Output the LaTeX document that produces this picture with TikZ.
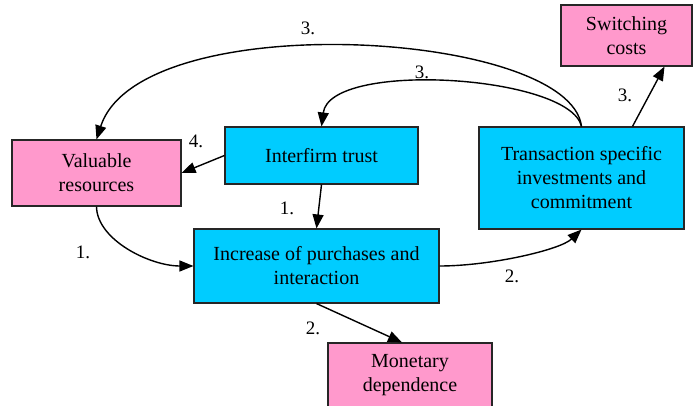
\documentclass[tikz,border=0pt]{standalone}
\usepackage{fontspec}
\setmainfont{Liberation Serif}
\usetikzlibrary{arrows.meta,calc}
\definecolor{boxcyan}{HTML}{00CCFF}
\definecolor{boxpink}{HTML}{FF99CC}
\begin{document}
\begin{tikzpicture}[x=1pt,y=-1pt,
  box/.style={draw=black!85,line width=1.1pt,rectangle,align=center,inner sep=0pt,
    font=\rmfamily\fontsize{20}{24}\selectfont},
  cyanbox/.style={box,fill=boxcyan},
  pinkbox/.style={box,fill=boxpink},
  conn/.style={line width=1.4pt,-{Triangle[length=14pt,width=11pt]}},
  lab/.style={font=\rmfamily\fontsize{19}{22}\selectfont,inner sep=0pt}]
\useasboundingbox (0,0) rectangle (694,406);
\node[pinkbox,minimum width=169pt,minimum height=66pt] (vr) at (96.5,173) {Valuable\\resources};
\node[cyanbox,minimum width=193pt,minimum height=57pt] (it) at (321.5,155.5) {Interfirm trust};
\node[cyanbox,minimum width=205pt,minimum height=102pt] (tr) at (581.5,178) {Transaction specific\\investments and\\commitment};
\node[pinkbox,minimum width=131pt,minimum height=61pt] (sw) at (626.5,35.5) {Switching\\costs};
\node[cyanbox,minimum width=245pt,minimum height=74pt] (inc) at (316.5,266) {Increase of purchases and\\interaction};
\node[pinkbox,minimum width=164pt,minimum height=65pt] (md) at (410,375.5) {Monetary\\dependence};
% connectors
\draw[conn] (tr.north) .. controls (570,30) and (140,5) .. (vr.north);
\draw[conn] (tr.north) .. controls (570,75) and (330,60) .. (it.north);
\draw[conn] ($(tr.north)+(51,0)$) -- ($(sw.south)+(38,0)$);
\draw[conn] (it.west) -- (vr.east);
\draw[conn] (it.south) -- (inc.north);
\draw[conn] (vr.south) .. controls (97,240) and (150,266) .. (inc.west);
\draw[conn] (inc.east) .. controls (490,266) and (560,250) .. (tr.south);
\draw[conn] (inc.south) -- ($(md.north)+(-8,0)$);
% labels
\node[lab] (l1) at (308,28) {3.};
\node[lab] (l2) at (422,72) {3.};
\node[lab] (l3) at (625,95) {3.};
\node[lab] (l4) at (196,141) {4.};
\node[lab] (l5) at (287,208) {1.};
\node[lab] (l6) at (83,252) {1.};
\node[lab] (l7) at (313,328) {2.};
\node[lab] (l8) at (512,276) {2.};
\end{tikzpicture}
\end{document}
